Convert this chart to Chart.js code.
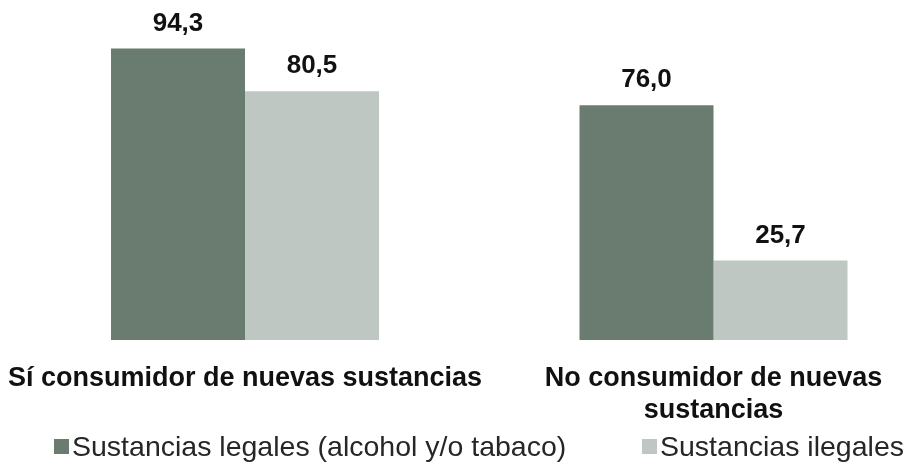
<!DOCTYPE html>
<html>
<head>
    <title>Consumo de sustancias</title>
    <script src="https://cdn.jsdelivr.net/npm/chart.js@4.4.1/dist/chart.umd.min.js"></script>
    <style>
        body {
            margin: 0;
            width: 908px;
            height: 462px;
            overflow: hidden;
            background: #ffffff;
            font-family: "Liberation Sans", Arial, sans-serif;
        }

        #chartBox {
            position: absolute;
            left: 0;
            top: 0;
            width: 948px;
            height: 462px;
        }

        #legend {
            position: absolute;
            top: 431px;
            left: 0;
            width: 908px;
            height: 30px;
        }

        .legendItem {
            position: absolute;
            top: 0;
            display: flex;
            align-items: center;
            height: 30px;
            font-size: 28.5px;
            color: #262626;
            white-space: nowrap;
        }

        .legendItem span.box {
            display: inline-block;
            width: 15px;
            height: 15px;
            margin-right: 3px;
        }
    </style>
</head>
<body>
    <div id="chartBox">
        <canvas id="barChart"></canvas>
    </div>
    <div id="legend"></div>

    <script>
        const categories = [
            'Sí consumidor de nuevas sustancias',
            ['No consumidor de nuevas', 'sustancias']
        ];
        const seriesNames = ['Sustancias legales (alcohol y/o tabaco)', 'Sustancias ilegales'];
        const legales = [94.3, 76.0];
        const ilegales = [80.5, 25.7];
        const colors = ['#6a7b70', '#bec7c1'];

        // value labels above the bars, with a decimal comma
        const valueLabels = {
            id: 'valueLabels',
            afterDatasetsDraw(chart) {
                const ctx = chart.ctx;
                ctx.save();
                ctx.font = 'bold 26px "Liberation Sans", Arial, sans-serif';
                ctx.fillStyle = '#111111';
                ctx.textAlign = 'center';
                ctx.textBaseline = 'middle';
                chart.data.datasets.forEach((ds, i) => {
                    chart.getDatasetMeta(i).data.forEach((bar, j) => {
                        let txt = ds.data[j].toFixed(1).replace('.', ',');
                        ctx.fillText(txt, bar.x, bar.y - 25);
                    });
                });
                ctx.restore();
            }
        };

        const ctx = document.getElementById('barChart').getContext('2d');
        const myChart = new Chart(ctx, {
            type: 'bar',
            data: {
                labels: categories,
                datasets: [{
                    label: seriesNames[0],
                    data: legales,
                    backgroundColor: colors[0]
                }, {
                    label: seriesNames[1],
                    data: ilegales,
                    backgroundColor: colors[1]
                }]
            },
            options: {
                responsive: true,
                maintainAspectRatio: false,
                animation: false,
                layout: {
                    padding: { top: 31, left: 10.75, right: 0.25, bottom: 36.5 }
                },
                datasets: {
                    bar: {
                        categoryPercentage: 0.572,
                        barPercentage: 1.0
                    }
                },
                plugins: {
                    legend: { display: false },
                    tooltip: { enabled: false }
                },
                scales: {
                    x: {
                        grid: { display: false, drawTicks: false },
                        border: { display: false },
                        ticks: {
                            padding: 23.5,
                            maxRotation: 0,
                            autoSkip: false,
                            color: '#111111',
                            font: { family: '"Liberation Sans", Arial, sans-serif', size: 27, weight: 'bold', lineHeight: 1.15 }
                        },
                        // keep the wide first label from pushing the plot area around
                        afterFit(scale) {
                            scale.paddingLeft = 0;
                            scale.paddingRight = 0;
                            scale.height = 85.5;
                        }
                    },
                    y: {
                        display: false,
                        min: 0,
                        max: 100
                    }
                }
            },
            plugins: [valueLabels]
        });

        // legend built from the series names
        const legendLeft = [54, 642];
        const legendDiv = document.getElementById('legend');
        seriesNames.forEach((name, i) => {
            let item = document.createElement('div');
            item.className = 'legendItem';
            item.style.left = legendLeft[i] + 'px';
            let box = document.createElement('span');
            box.className = 'box';
            box.style.background = colors[i];
            item.appendChild(box);
            item.appendChild(document.createTextNode(name));
            legendDiv.appendChild(item);
        });
    </script>
</body>
</html>
